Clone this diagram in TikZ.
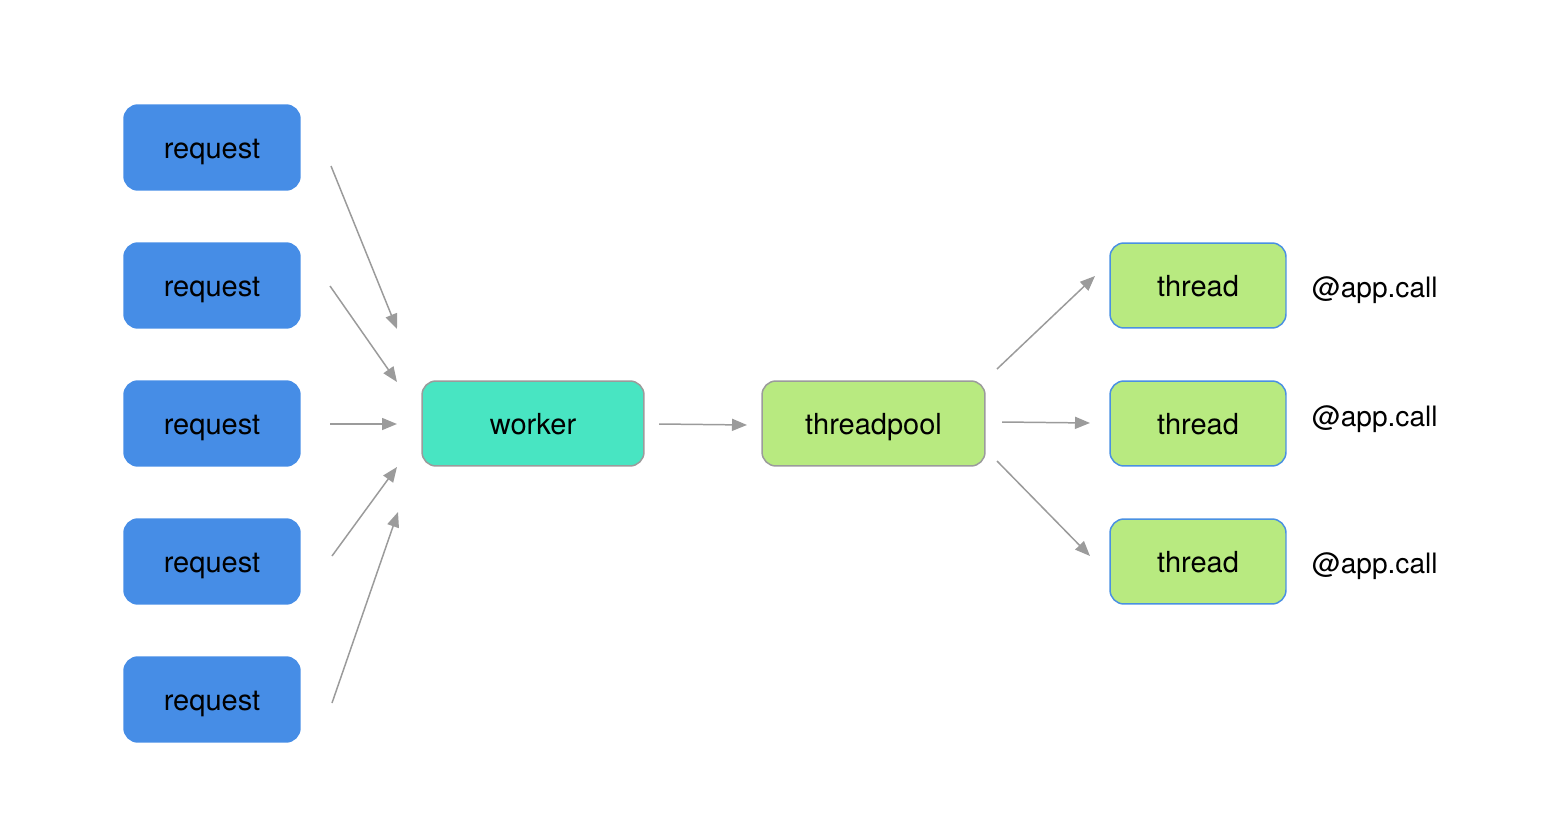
\documentclass[tikz,border=0pt]{standalone}
\usepackage{fontspec}
\setmainfont{TeX Gyre Heros}
\usepackage{tikz}
\usetikzlibrary{arrows.meta,positioning,calc}

\definecolor{reqblue}{HTML}{468DE6}
\definecolor{workteal}{HTML}{48E5C2}
\definecolor{poolgreen}{HTML}{B8EA80}
\definecolor{edgeblue}{HTML}{4A90E2}
\definecolor{edgegrey}{HTML}{9B9B9B}

\begin{document}
\begin{tikzpicture}[x=0.02cm,y=-0.02cm,
  box/.style={rounded corners=0.28cm,minimum width=3.52cm,minimum height=1.7cm,
    text height=13pt,text depth=0pt,
    font=\fontsize{16.5}{20}\selectfont,line width=0.85pt},
  reqbox/.style={box,fill=reqblue,draw=reqblue},
  workbox/.style={box,fill=workteal,draw=edgegrey,minimum width=4.44cm},
  poolbox/.style={box,fill=poolgreen,draw=edgegrey,minimum width=4.46cm},
  threadbox/.style={box,fill=poolgreen,draw=edgeblue},
  call/.style={anchor=west,font=\fontsize{16}{20}\selectfont},
  flow/.style={draw=edgegrey,line width=0.85pt,-{Triangle[length=0.3cm,width=0.24cm]}}]
  \useasboundingbox (0,0) rectangle (1548,824);
  % Define the request boxes
  \path (212,147.5) node[reqbox] (R1) {request};
  \path (212,285.5) node[reqbox] (R2) {request};
  \path (212,423.5) node[reqbox] (R3) {request};
  \path (212,561.5) node[reqbox] (R4) {request};
  \path (212,699.5) node[reqbox] (R5) {request};
  % Worker and pool
  \path (533,423.5) node[workbox] (W) {worker};
  \path (873.5,423.5) node[poolbox] (TP) {threadpool};
  % Threads and their calls
  \path (1198,285.5) node[threadbox] (T1) {thread};
  \path (1198,423.5) node[threadbox] (T2) {thread};
  \path (1198,561.5) node[threadbox] (T3) {thread};
  \path (1306,290) node[call] (L1) {@app.call};
  \path (1306,419) node[call] (L2) {@app.call};
  \path (1306,566) node[call] (L3) {@app.call};
  % Free ends of the arrows
  \coordinate (s1) at (331,166);  \coordinate (e1) at (397,329);
  \coordinate (s2) at (330,286);  \coordinate (e2) at (397,382);
  \coordinate (s3) at (330,424);  \coordinate (e3) at (397,424);
  \coordinate (s4) at (332,556);  \coordinate (e4) at (397,467);
  \coordinate (s5) at (332,703);  \coordinate (e5) at (398,512);
  \coordinate (ws) at (659,424);  \coordinate (we) at (747,425);
  \coordinate (p1) at (997,369);  \coordinate (q1) at (1095,276);
  \coordinate (p2) at (1002,422); \coordinate (q2) at (1090,423);
  \coordinate (p3) at (997,461);  \coordinate (q3) at (1090,556);
  % Draw the arrows
  \draw[flow] (s1) -- (e1); \draw[flow] (s2) -- (e2); \draw[flow] (s3) -- (e3);
  \draw[flow] (s4) -- (e4); \draw[flow] (s5) -- (e5);
  \draw[flow] (ws) -- (we);
  \draw[flow] (p1) -- (q1); \draw[flow] (p2) -- (q2); \draw[flow] (p3) -- (q3);
\end{tikzpicture}
\end{document}
